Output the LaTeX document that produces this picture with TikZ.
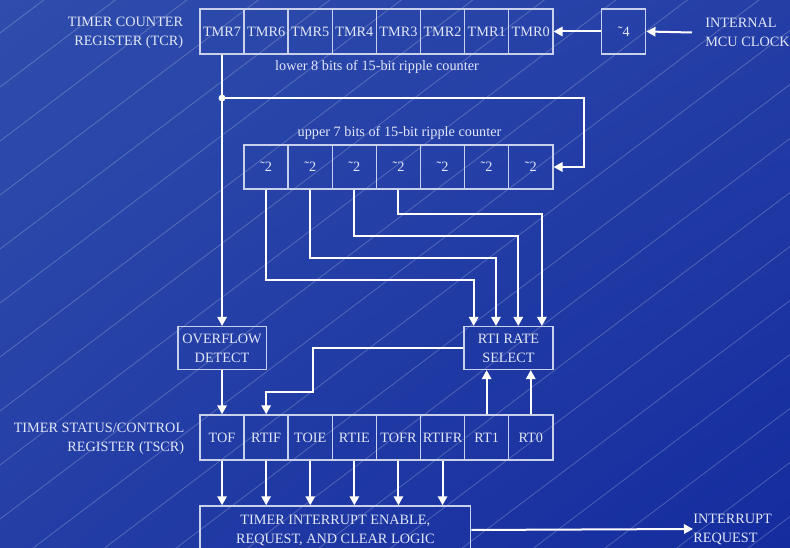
\documentclass[tikz,border=0pt]{standalone}
\usepackage{fontspec}
\setmainfont{Liberation Serif}
\usetikzlibrary{arrows.meta,calc,shadings}
\definecolor{bgA}{RGB}{46,77,172}
\definecolor{bgB}{RGB}{20,44,158}
\definecolor{bgC}{RGB}{36,62,166}
\definecolor{txt}{RGB}{226,230,246}
\definecolor{boxc}{RGB}{200,208,236}
\begin{document}
\begin{tikzpicture}[x=0.75pt,y=-0.75pt,
  every node/.style={text=txt,font=\fontsize{10.7pt}{14.25pt}\selectfont},
  cell/.style={draw=boxc,line width=1.1pt,minimum width=33.1pt,minimum height=33.75pt,inner sep=0pt},
  blk/.style={draw=boxc,line width=1.1pt,inner sep=0pt,align=center},
  conn/.style={draw=white,line width=1.5pt},
  arr/.style={conn,-{Triangle[length=6.75pt,width=7pt]}},
  lbl/.style={inner sep=0pt,align=left}]
\useasboundingbox (0,0) rectangle (790,548);
\clip (0,0) rectangle (790,548);
\begin{scope}[x=1pt,y=1pt]
\shade[upper left=bgA, upper right=bgC, lower left=bgC, lower right=bgB] (0,0) rectangle (592.5,-411);
\end{scope}
\foreach \k in {0,...,21} {
  \draw[white,opacity=0.22,line width=0.6pt] (0,{33+54*\k}) -- (790,{33+54*\k-596.5});
}
% timer counter register
\foreach \b [count=\i from 0] in {7,6,5,4,3,2,1,0}
  \node[cell] (tmr\b) at ({222.05+44.1*\i},31.5) {TMR\b};
\node[cell,minimum width=33pt] (div4) at (623.7,31.5) {˜4};
\node[lbl,anchor=west] (clk) at (705,32.5) {INTERNAL\\MCU CLOCK};
\node[lbl,align=right,anchor=east] (tcrl) at (183.5,33.3) {TIMER COUNTER\\REGISTER (TCR)};
\node[inner sep=0pt] (low) at (377,67) {lower 8 bits of 15-bit ripple counter};
% upper 7 bits
\foreach \i in {1,...,7}
  \node[cell,minimum height=33pt] (d\i) at ({222.05+44.1*\i},167) {˜2};
\node[inner sep=0pt] (upl) at (399.5,133) {upper 7 bits of 15-bit ripple counter};
% blocks
\node[blk,minimum width=66.3pt,minimum height=32pt] (ovf) at (222.05,348) {OVERFLOW\\DETECT};
\node[blk,minimum width=66.75pt,minimum height=32pt] (rti) at (508.5,348) {RTI RATE\\SELECT};
% status/control register
\foreach \n/\t [count=\i from 0] in {tof/TOF,rtif/RTIF,toie/TOIE,rtie/RTIE,tofr/TOFR,rtifr/RTIFR,rt1/RT1,rt0/RT0}
  \node[cell] (\n) at ({222.05+44.1*\i},437.5) {\t};
\node[lbl,align=right,anchor=east] (tscrl) at (184.5,439) {TIMER STATUS/CONTROL\\REGISTER (TSCR)};
\node[blk,minimum width=203pt,minimum height=36pt] (logic) at (335.35,530) {TIMER INTERRUPT ENABLE,\\REQUEST, AND CLEAR LOGIC};
\node[lbl,anchor=west] (intreq) at (693,529) {INTERRUPT\\REQUEST};
% connectors
\draw[arr] ([xshift=-9.75pt]clk.west) -- (div4.east);
\draw[arr] (div4.west) -- (tmr0.east);
\coordinate (tap) at (222.05,98);
\coordinate (fb) at (584,98);
\draw[arr] (tmr7.south) -- (ovf.north);
\fill[white] (tap) circle (2.6pt);
\draw[arr] (tap) -- (fb) |- (d7.east);
\coordinate (r1) at ($(rti.north west)+(10.4,0)$);
\coordinate (r2) at ($(rti.north west)+(32.7,0)$);
\coordinate (r3) at ($(rti.north west)+(55.0,0)$);
\coordinate (r4) at ($(rti.north west)+(78.6,0)$);
\draw[arr] (d1.south) -- ++(0,90) -| (r1);
\draw[arr] (d2.south) -- ++(0,68) -| (r2);
\draw[arr] (d3.south) -- ++(0,46) -| (r3);
\draw[arr] (d4.south) -- ++(0,24) -| (r4);
\draw[arr] (ovf.south) -- (tof.north);
\draw[arr] (rti.west) -- ++(-150.7,0) -- ++(0,44) -| (rtif.north);
\draw[arr] (rt1.north) -- (rt1.north |- rti.south);
\draw[arr] (rt0.north) -- (rt0.north |- rti.south);
\foreach \n in {tof,rtif,toie,rtie,tofr,rtifr}
  \draw[arr] (\n.south) -- (\n.south |- logic.north);
\draw[arr] (logic.east) -- (intreq.west);
\end{tikzpicture}
\end{document}
